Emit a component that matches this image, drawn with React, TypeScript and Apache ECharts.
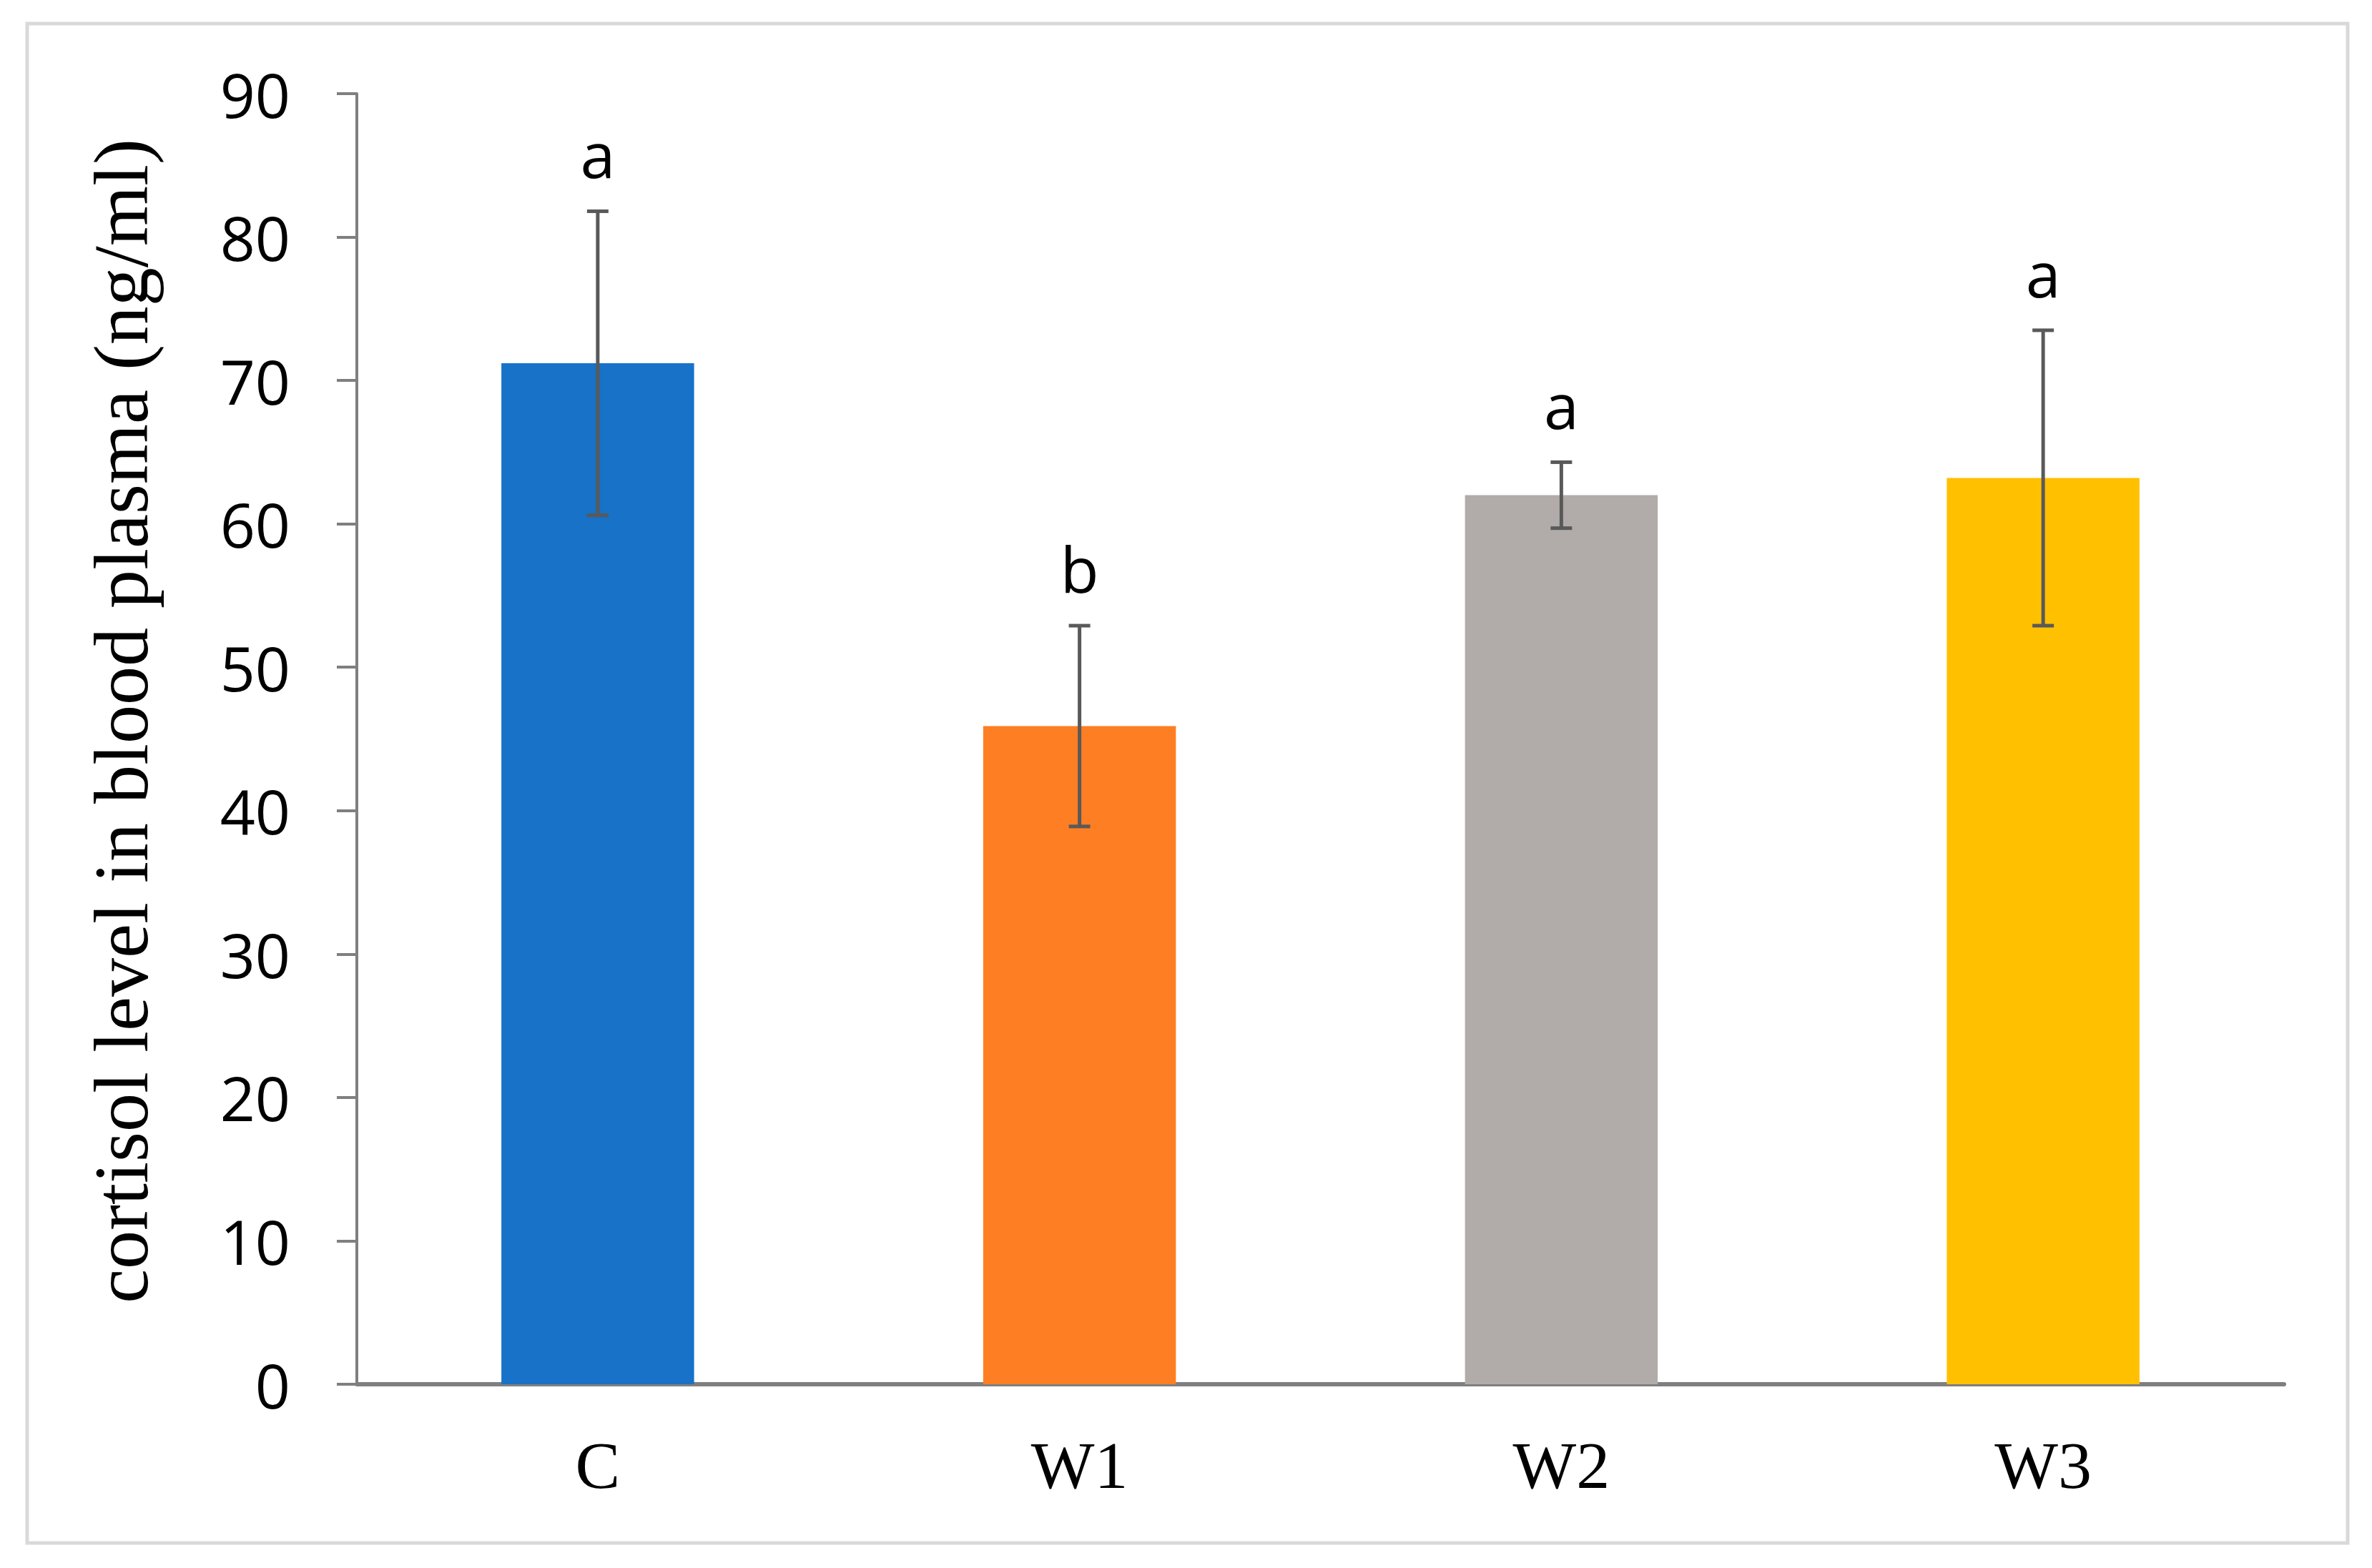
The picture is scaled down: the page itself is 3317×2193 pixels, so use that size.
import React, { useEffect, useRef } from "react";
import * as echarts from "echarts";

const categories = ["C", "W1", "W2", "W3"];
const means = [71.2, 45.9, 62.0, 63.2];
const errors = [10.6, 7.0, 2.3, 10.3];
const letters = ["a", "b", "a", "a"];
const barColors = ["#1772C8", "#FE7E23", "#B1ACA9", "#FFC000"];
const yMin = 0;
const yMax = 90;
const yInterval = 10;

export default function App() {
  const ref = useRef<HTMLDivElement>(null);
  useEffect(() => {
    if (!ref.current) return;
    const chart = echarts.init(ref.current, null, { renderer: "svg" });
    const option: any = {
      animation: false,
      backgroundColor: "#ffffff",
      graphic: [
        {
          type: "rect",
          shape: { x: 38, y: 33, width: 3245, height: 2125 },
          style: { fill: "none", stroke: "#d9d9d9", lineWidth: 5 },
          silent: true,
          z: -1,
        },
      ],
      grid: { left: 499, right: 123, top: 131, bottom: 257, containLabel: false },
      xAxis: {
        type: "category",
        data: categories,
        axisLine: { show: true, lineStyle: { color: "#7f7f7f", width: 6 } },
        axisTick: { show: false },
        axisLabel: {
          margin: 66,
          fontFamily: "Liberation Serif",
          fontSize: 94,
          color: "#000",
        },
      },
      yAxis: {
        type: "value",
        min: yMin,
        max: yMax,
        interval: yInterval,
        name: "cortisol level in blood plasma (ng/ml)",
        nameLocation: "middle",
        nameRotate: 90,
        nameGap: 276,
        nameTextStyle: {
          fontFamily: "Liberation Serif",
          fontSize: 108,
          color: "#000",
          padding: [0, 0, 0, 50],
        },
        axisLine: { show: true, lineStyle: { color: "#7f7f7f", width: 4 } },
        axisTick: { show: true, length: 28, lineStyle: { color: "#7f7f7f", width: 4 } },
        splitLine: { show: false },
        axisLabel: {
          margin: 93,
          fontFamily: "Open Sans",
          fontSize: 86,
          color: "#000",
        },
      },
      series: [
        {
          type: "bar",
          barWidth: "40%",
          data: means.map((v, i) => ({ value: v, itemStyle: { color: barColors[i] } })),
          z: 2,
        },
        {
          type: "custom",
          z: 5,
          data: means.map((v, i) => [i, v, errors[i]]),
          renderItem: (params: any, api: any) => {
            const idx = api.value(0);
            const m = api.value(1);
            const e = api.value(2);
            const top = api.coord([idx, m + e]);
            const bot = api.coord([idx, m - e]);
            const cx = top[0];
            const half = 15;
            const stroke = "#595959";
            const lw = 5;
            return {
              type: "group",
              children: [
                { type: "line", shape: { x1: cx, y1: top[1], x2: cx, y2: bot[1] }, style: { stroke, lineWidth: lw } },
                { type: "line", shape: { x1: cx - half, y1: top[1], x2: cx + half, y2: top[1] }, style: { stroke, lineWidth: lw } },
                { type: "line", shape: { x1: cx - half, y1: bot[1], x2: cx + half, y2: bot[1] }, style: { stroke, lineWidth: lw } },
                {
                  type: "text",
                  style: {
                    text: letters[params.dataIndex],
                    x: cx,
                    y: top[1] - 80,
                    align: "center",
                    verticalAlign: "middle",
                    fontFamily: "Open Sans",
                    fontSize: 88,
                    fill: "#000",
                  },
                },
              ],
            };
          },
        },
      ],
    };
    chart.setOption(option);
    return () => chart.dispose();
  }, []);
  return (
    <div
      ref={ref}
      style={{ position: "fixed", left: 0, top: 0, width: 3317, height: 2193, background: "#fff" }}
    />
  );
}
